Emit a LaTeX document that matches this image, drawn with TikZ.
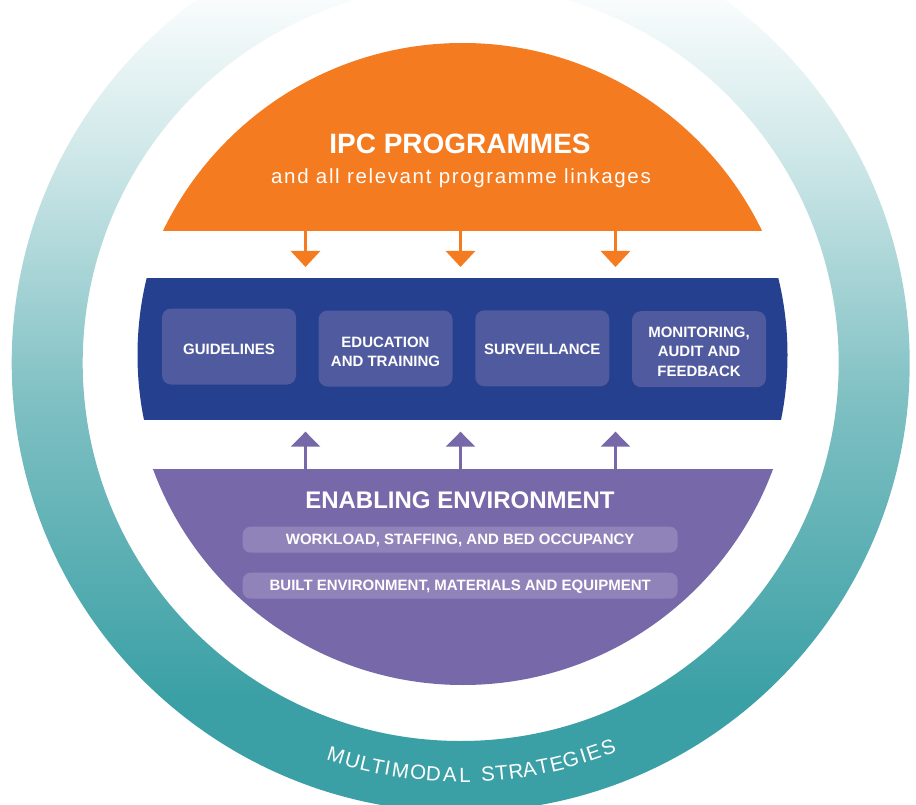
\documentclass[tikz,border=0pt]{standalone}
\usepackage{fontspec}
\setmainfont{Liberation Sans}
\usetikzlibrary{arrows.meta,calc}
\definecolor{ipcorange}{RGB}{244,123,32}
\definecolor{bandblue}{RGB}{37,64,142}
\definecolor{boxblue}{RGB}{80,90,158}
\definecolor{envpurple}{RGB}{119,105,169}
\definecolor{pillpurple}{RGB}{144,131,186}
\definecolor{ringteal}{RGB}{58,160,165}
\definecolor{ringmid}{RGB}{127,192,195}
\definecolor{ringlight}{RGB}{208,232,233}
\pgfdeclareverticalshading{ringsh}{100bp}{color(0bp)=(ringteal); color(31.24bp)=(ringteal); color(47.94bp)=(ringmid); color(61.86bp)=(ringlight); color(71.5bp)=(white); color(100bp)=(white)}
\begin{document}
\begin{tikzpicture}[x=1pt,y=-1pt,
  box/.style={fill=boxblue, rounded corners=9pt, minimum width=134pt, minimum height=76pt, inner sep=0pt},
  btext/.style={text=white, font=\bfseries\fontsize{15}{19.3}\selectfont, align=center, inner sep=0pt},
  pill/.style={fill=pillpurple, rounded corners=8pt, minimum width=435pt, minimum height=26pt, inner sep=0pt, text=white, font=\bfseries\fontsize{15}{18}\selectfont, text depth=0pt},
  oarrow/.style={draw=ipcorange, line width=3pt, -{Triangle[width=29pt,length=16pt]}},
  parrow/.style={draw=envpurple, line width=3pt, -{Triangle[width=29pt,length=15pt]}},
  ringletter/.style={text=white, font=\fontsize{20.5}{22}\selectfont, inner sep=0pt, anchor=base}]
\useasboundingbox (0,0) rectangle (916,805);
\fill[white] (0,0) rectangle (916,805);
\coordinate (rc) at (460.7,363);
% outer ring
\begin{scope}
  \clip (0,0) rectangle (916,805);
  \shade[shading=ringsh, even odd rule] (rc) circle (449) (rc) circle (378);
\end{scope}
% orange segment
\begin{scope}
  \clip (0,0) rectangle (916,231);
  \fill[ipcorange] (462.5,375.6) circle (332.6);
\end{scope}
% blue band
\begin{scope}
  \clip (0,279) rectangle (916,419);
  \fill[bandblue] (462.5,355) circle (325);
\end{scope}
% purple segment
\begin{scope}
  \clip (0,469) rectangle (916,805);
  \fill[envpurple] (463,354.6) circle (330.4);
\end{scope}
% titles
\node[text=white, font=\bfseries\fontsize{28}{30}\selectfont, anchor=base, inner sep=0pt] (ipc) at (460,153.5) {IPC PROGRAMMES};
\node[text=white, font=\fontsize{20.5}{23}\selectfont\addfontfeatures{LetterSpace=8}, anchor=base, inner sep=0pt] (link) at (461,184) {and all relevant programme linkages};
\node[text=white, font=\bfseries\fontsize{24}{26}\selectfont, anchor=base, inner sep=0pt] (env) at (460,508.3) {ENABLING ENVIRONMENT};
% boxes
\node[box] (b1) at (229,346.5) {};
\node[box] (b2) at (385.5,348.5) {};
\node[box] (b3) at (542.3,348.3) {};
\node[box] (b4) at (699,349.2) {};
\node[btext] (t1) at (229,349.7) {GUIDELINES};
\node[btext] (t2) at (385.5,351.7) {EDUCATION\\AND TRAINING};
\node[btext] (t3) at (542.3,349.7) {SURVEILLANCE};
\node[btext] (t4) at (699,351.7) {MONITORING,\\AUDIT AND\\FEEDBACK};
% pills
\node[pill] (p1) at (460.2,539.7) {WORKLOAD, STAFFING, AND BED OCCUPANCY};
\node[pill] (p2) at (460.2,585.7) {BUILT ENVIRONMENT, MATERIALS AND EQUIPMENT};
% arrows
\foreach \x [count=\i] in {305.5,460.5,615.5}{
  \coordinate (os\i) at (\x,231);
  \coordinate (oe\i) at (\x,267);
  \coordinate (ps\i) at (\x,469);
  \coordinate (pe\i) at (\x,431.7);
  \draw[oarrow] (os\i) -- (oe\i);
  \draw[parrow] (ps\i) -- (pe\i);
}
% curved label
\foreach \ch/\a [count=\i] in {M/-17.6,U/-15.2,L/-13.3,T/-11.6,I/-10.2,M/-8.4,O/-5.9,D/-3.8,A/-1.5,L/0.6,S/3.8,T/5.7,R/7.7,A/9.6,T/11.5,E/13.5,G/15.5,I/17.3,E/18.8,S/21.0}{
  \node[ringletter, rotate=\a] (ml\i) at ($(rc)+({90-\a}:419)$) {\ch};
}
\end{tikzpicture}
\end{document}
